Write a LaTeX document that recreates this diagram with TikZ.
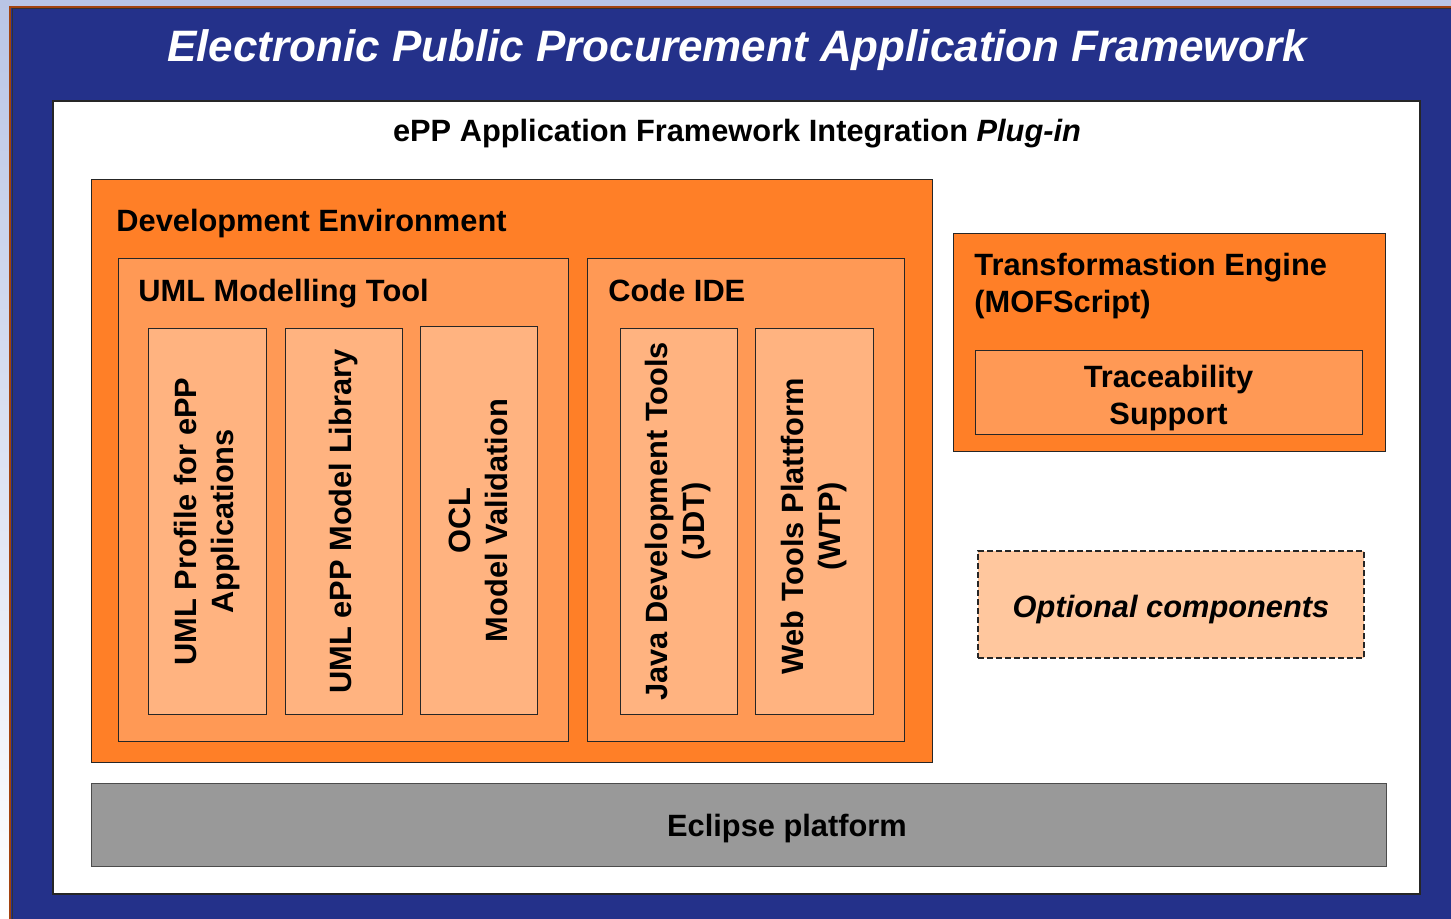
\documentclass[tikz,border=0pt]{standalone}
\usepackage{fontspec}
\setmainfont{Liberation Sans}
\usetikzlibrary{fit,positioning}
\definecolor{framebg}{HTML}{24318A}
\definecolor{rim}{HTML}{A3420E}
\definecolor{pagebg}{HTML}{B9C5E5}
\definecolor{envorange}{HTML}{FF7F27}
\definecolor{toolorange}{HTML}{FF9955}
\definecolor{partorange}{HTML}{FFB380}
\definecolor{optfill}{HTML}{FFC79E}
\definecolor{platgray}{HTML}{999999}

\begin{document}
\begin{tikzpicture}[x=0.5pt,y=-0.5pt,
  box/.style={draw=black!85,line width=0.5pt,inner sep=0pt},
  lbl/.style={font=\fontsize{15.4}{18.5}\selectfont\bfseries,inner sep=0pt,align=center},
  partbox/.style={box,fill=partorange},
  vtext/.style={lbl,rotate=90}]
\useasboundingbox (0,0) rectangle (1451,919);
\shade[top color=pagebg,bottom color=white] (0,0) rectangle (12,919);
\fill[pagebg] (0,0) rectangle (1451,8);
\fill[framebg] (10,7) rectangle (1451,919);
\draw[rim,line width=1pt] (10,919) -- (10,7) -- (1451,7);
\draw[black!80,line width=0.5pt] (12,919) -- (12,9) -- (1451,9);
\node[font=\fontsize{22}{28}\selectfont\bfseries\itshape,text=white,inner sep=0pt,anchor=base] (title) at (737,62) {Electronic Public Procurement Application Framework};
\node[box,fill=white,line width=0.8pt,fit={(53,101)(1420,894)}] (panel) {};
\node[lbl,anchor=base] (plugin) at (737,142) {ePP Application Framework Integration \textit{Plug-in}};
\node[box,fill=envorange,fit={(91,180)(932,762)}] (devenv) {};
\node[lbl,anchor=base west] at (116,232) {Development Environment};
\node[box,fill=toolorange,fit={(118,259)(568,741)}] (umltool) {};
\node[lbl,anchor=base west] at (138,302) {UML Modelling Tool};
\node[box,fill=toolorange,fit={(587,259)(904,741)}] (codeide) {};
\node[lbl,anchor=base west] at (608,302) {Code IDE};
\node[partbox,fit={(148,329)(266,714)}] (profile) {};
\node[partbox,fit={(285,329)(402,714)}] (library) {};
\node[partbox,fit={(420,327)(537,714)}] (ocl) {};
\node[partbox,fit={(620,329)(737,714)}] (jdt) {};
\node[partbox,fit={(755,329)(873,714)}] (wtp) {};
\node[vtext] at (profile.center) {UML Profile for ePP\\Applications};
\node[vtext] at (library.center) {UML ePP Model Library};
\node[vtext] at (ocl.center) {OCL\\Model Validation};
\node[vtext] at (jdt.center) {Java Development Tools\\(JDT)};
\node[vtext] at ([yshift=-2.5pt]wtp.center) {Web Tools Plattform\\(WTP)};
\node[box,fill=envorange,fit={(953,234)(1385,452)}] (engine) {};
\node[lbl,align=left,anchor=north west] at (974,253) {Transformastion Engine\\(MOFScript)};
\node[box,fill=toolorange,fit={(975,351)(1362,435)}] (trace) {};
\node[lbl] at ([yshift=-2.5pt]trace.center) {Traceability\\Support};
\node[box,fill=optfill,dash pattern=on 3pt off 1.5pt,line width=0.75pt,fit={(978,551)(1364,658)}] (optional) {};
\node[lbl,font=\fontsize{15.4}{18.5}\selectfont\bfseries\itshape] at ([yshift=-2.5pt]optional.center) {Optional components};
\node[box,fill=platgray,draw=black!70,fit={(91,783)(1386,866)}] (eclipse) {};
\node[lbl] at (787,829) {Eclipse platform};
\end{tikzpicture}
\end{document}
